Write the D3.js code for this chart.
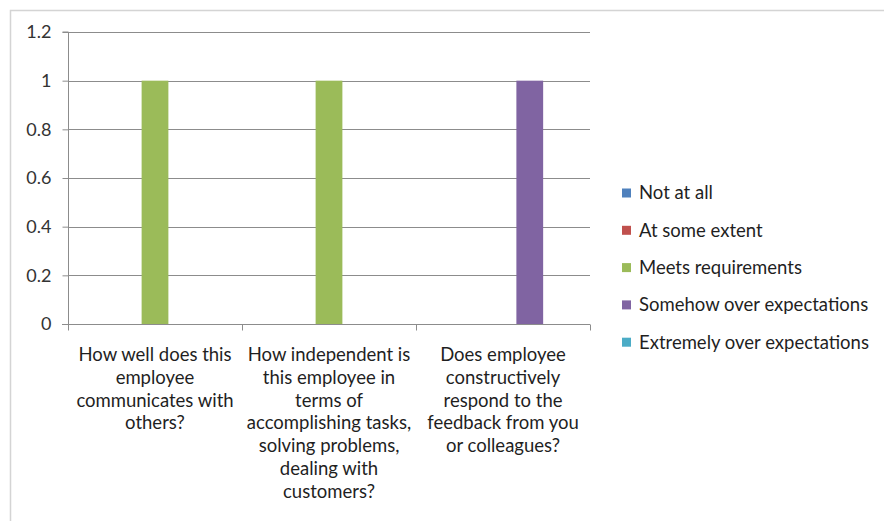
<!DOCTYPE html>
<html>
<head>
<meta charset="utf-8">
<script src="https://cdn.jsdelivr.net/npm/d3@7"></script>
<style>
  body { margin: 0; background: #fff; }
  svg { display: block; font-family: Lato, "Open Sans", sans-serif; }
</style>
</head>
<body>
<div id="chart"></div>
<script>
const questions = [
  ["How well does this", "employee", "communicates with", "others?"],
  ["How independent is", "this employee in", "terms of", "accomplishing tasks,", "solving problems,", "dealing with", "customers?"],
  ["Does employee", "constructively", "respond to the", "feedback from you", "or colleagues?"]
];
const seriesNames = ["Not at all", "At some extent", "Meets requirements", "Somehow over expectations", "Extremely over expectations"];
const seriesColors = ["#4F81BD", "#C0504D", "#9BBB59", "#8064A2", "#4BACC6"];
// one row per question, one value per series
const values = [
  [0, 0, 1, 0, 0],
  [0, 0, 1, 0, 0],
  [0, 0, 0, 1, 0]
];
const yTicks = [0, 0.2, 0.4, 0.6, 0.8, 1, 1.2];

const width = 884, height = 521;
const plot = { left: 68, right: 590, top: 32, bottom: 324 };

const svg = d3.select("#chart").append("svg")
  .attr("width", width)
  .attr("height", height);

// outer chart border (only top & left visible in the crop)
svg.append("path")
  .attr("d", `M10.5,${height}V10.5H${width}`)
  .attr("fill", "none")
  .attr("stroke", "#d4d4d4")
  .attr("stroke-width", 1.5);

const x = d3.scaleBand()
  .domain(d3.range(questions.length))
  .range([plot.left, plot.right]);

const inner = d3.scaleBand()
  .domain(d3.range(seriesNames.length))
  .range([0, x.bandwidth()])
  .paddingInner(0)
  .paddingOuter(0.75);

const y = d3.scaleLinear()
  .domain([0, 1.2])
  .range([plot.bottom, plot.top]);

// gridlines
svg.append("g")
  .selectAll("line")
  .data(yTicks.filter(d => d > 0))
  .join("line")
  .attr("x1", plot.left)
  .attr("x2", plot.right)
  .attr("y1", d => Math.round(y(d)) + 0.5)
  .attr("y2", d => Math.round(y(d)) + 0.5)
  .attr("stroke", "#8c8c8c")
  .attr("stroke-width", 1);

// y axis
const yAxis = svg.append("g")
  .attr("transform", `translate(${plot.left + 0.5},0)`)
  .call(d3.axisLeft(y).tickValues(yTicks).tickSize(6).tickPadding(11).tickFormat(d => d3.format("")(+d.toFixed(1))));
yAxis.select(".domain").attr("stroke", "#8c8c8c").attr("d", `M-6,${plot.top}H0V${plot.bottom}`);
yAxis.selectAll(".tick line").attr("stroke", "#8c8c8c");
yAxis.selectAll(".tick text").attr("fill", "#333").attr("font-size", 18).attr("font-family", "Lato, sans-serif");

// bars
svg.append("g")
  .selectAll("g")
  .data(values)
  .join("g")
  .attr("transform", (d, i) => `translate(${x(i)},0)`)
  .selectAll("rect")
  .data(d => d.map((v, k) => ({ v, k })))
  .join("rect")
  .attr("x", d => inner(d.k))
  .attr("width", inner.bandwidth())
  .attr("y", d => y(d.v))
  .attr("height", d => y(0) - y(d.v))
  .attr("fill", d => seriesColors[d.k]);

// x axis
const xAxis = svg.append("g")
  .attr("transform", `translate(0,${plot.bottom + 0.5})`);
xAxis.append("line")
  .attr("x1", plot.left - 6).attr("x2", plot.right)
  .attr("stroke", "#8c8c8c");
xAxis.selectAll(".tk")
  .data(d3.range(questions.length + 1))
  .join("line")
  .attr("class", "tk")
  .attr("x1", i => Math.round(plot.left + i * x.step()) + 0.5)
  .attr("x2", i => Math.round(plot.left + i * x.step()) + 0.5)
  .attr("y1", 0).attr("y2", 6)
  .attr("stroke", "#8c8c8c");

// category labels
svg.append("g")
  .selectAll("text")
  .data(questions)
  .join("text")
  .attr("text-anchor", "middle")
  .attr("fill", "#1f1f1f")
  .attr("font-size", 18.5)
  .attr("transform", (d, i) => `translate(${x(i) + x.bandwidth() / 2},${plot.bottom + 37})`)
  .selectAll("tspan")
  .data(d => d)
  .join("tspan")
  .attr("x", 0)
  .attr("y", (d, j) => j * 22.8)
  .text(d => d);

// legend
const legend = svg.append("g")
  .attr("transform", "translate(622,193)")
  .selectAll("g")
  .data(seriesNames)
  .join("g")
  .attr("transform", (d, i) => `translate(0,${i * 37.3})`);
legend.append("rect")
  .attr("x", 0).attr("y", -4.5)
  .attr("width", 9).attr("height", 9)
  .attr("fill", (d, i) => seriesColors[i]);
legend.append("text")
  .attr("x", 17)
  .attr("dy", "0.35em")
  .attr("fill", "#1f1f1f")
  .attr("font-size", 18.5)
  .text(d => d);
</script>
</body>
</html>
